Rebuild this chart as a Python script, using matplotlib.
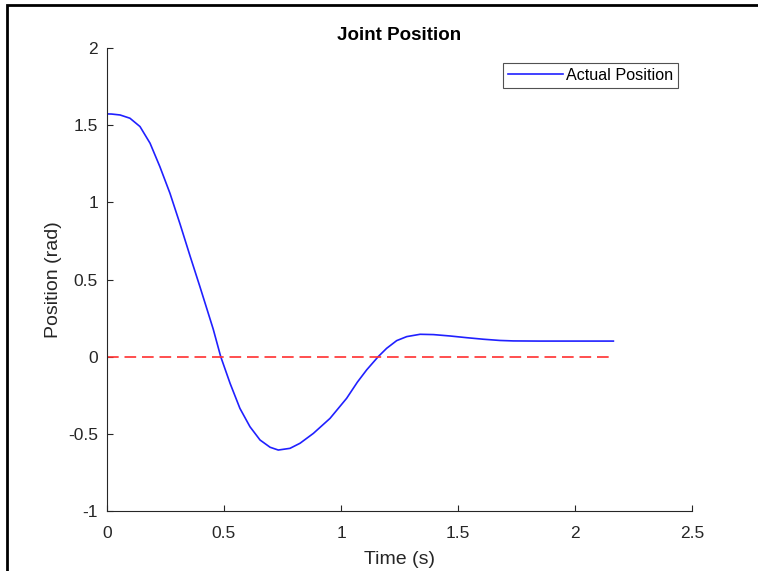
import numpy as np
import matplotlib.pyplot as plt
from matplotlib.patches import Rectangle

# values
time_s = [0.0, 0.02, 0.056, 0.098, 0.141, 0.184, 0.226, 0.269, 0.312, 0.355,
          0.397, 0.440, 0.454, 0.486, 0.526, 0.568, 0.611, 0.654, 0.697, 0.732,
          0.782, 0.825, 0.882, 0.953, 1.024, 1.070, 1.110, 1.159, 1.195, 1.238,
          1.281, 1.338, 1.395, 1.466, 1.537, 1.608, 1.679, 1.737, 1.85, 2.0, 2.164]
position = [1.573, 1.572, 1.566, 1.545, 1.491, 1.383, 1.231, 1.059, 0.860, 0.652,
            0.454, 0.246, 0.178, 0.0, -0.173, -0.335, -0.454, -0.540, -0.587, -0.605,
            -0.594, -0.561, -0.497, -0.400, -0.270, -0.165, -0.085, 0.0, 0.054, 0.104,
            0.130, 0.145, 0.143, 0.134, 0.123, 0.113, 0.105, 0.102, 0.101, 0.101, 0.101]
target_t = [0.0, 2.164]
target_pos = [0.0, 0.0]

plt.rcParams['font.family'] = ['Liberation Sans', 'DejaVu Sans']
text_col = '#262626'

fig = plt.figure(figsize=(7.58, 5.71), dpi=100)
ax = fig.add_axes([107 / 758, 1 - 511 / 571, 585 / 758, 463 / 571])

ax.plot(time_s, position, color='#2020ff', lw=1.2, solid_joinstyle='round',
        label='Actual Position')
ax.plot(target_t, target_pos, color='#ff3030', lw=1.2, ls=(0, (7, 3.5)))

ax.set_xlim(0, 2.5)
ax.set_ylim(-1, 2)
ax.set_xticks([0, 0.5, 1, 1.5, 2, 2.5])
ax.set_xticklabels(['0', '0.5', '1', '1.5', '2', '2.5'])
ax.set_yticks([-1, -0.5, 0, 0.5, 1, 1.5, 2])
ax.set_yticklabels(['-1', '-0.5', '0', '0.5', '1', '1.5', '2'])
for s in ['top', 'right']:
    ax.spines[s].set_visible(False)
for s in ['left', 'bottom']:
    ax.spines[s].set_color(text_col)
    ax.spines[s].set_linewidth(0.8)
ax.tick_params(direction='in', length=4, width=0.8, colors=text_col,
               labelsize=12.5)
ax.tick_params(axis='x', pad=11)
ax.tick_params(axis='y', pad=6.5)

ax.set_title('Joint Position', fontsize=13.5, fontweight='bold', pad=6)
ax.set_xlabel('Time (s)', fontsize=14, color=text_col, labelpad=7)
ax.set_ylabel('Position (rad)', fontsize=14, color=text_col, labelpad=4.5)

leg = ax.legend(loc='upper right', bbox_to_anchor=(678 / 758, 1 - 63 / 571),
                bbox_transform=fig.transFigure, fontsize=11.6, frameon=True,
                fancybox=False, edgecolor=text_col, borderpad=0.3,
                handlelength=3.4, handletextpad=0.2, borderaxespad=0)
leg.get_frame().set_linewidth(0.8)

# outer border of the screenshot
fig.patches.append(Rectangle((7 / 758, -0.05), 1.0, 1 - 5 / 571 + 0.05,
                             transform=fig.transFigure, fill=False,
                             edgecolor='black', lw=2))

fig.savefig('out.png', dpi=100)
